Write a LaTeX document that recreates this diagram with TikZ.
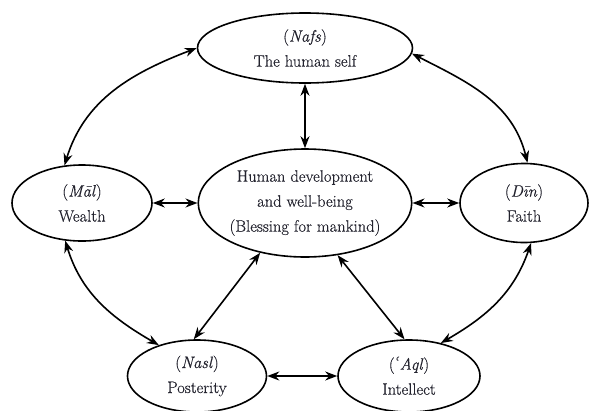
\documentclass[tikz,border=0pt]{standalone}
\usepackage{fontspec}
\setmainfont{Latin Modern Roman}[FakeBold=0.4,AutoFakeBold=0.4]
\newfontfamily\dvs{DejaVu Serif}
\usetikzlibrary{shapes.geometric,arrows.meta}
\definecolor{txt}{HTML}{23232E}
\begin{document}
\begin{tikzpicture}[x=1pt,y=1pt,
  oval/.style={ellipse, draw, line width=1.6pt, inner sep=0pt, align=center,
    text=txt, font=\fontsize{16.5}{25}\selectfont},
  link/.style={line width=1.6pt,
    {Stealth[length=12pt,width=9pt]}-{Stealth[length=12pt,width=9pt]}}]
\useasboundingbox (0,0) rectangle (589,-410);
\node[oval, minimum width=215pt, minimum height=70pt] (nafs) at (305,-48)
  {(\textit{Nafs})\\The human self};
\node[oval, minimum width=211pt, minimum height=108pt] (center) at (305,-203)
  {Human development\\and well-being\\(Blessing for mankind)};
\node[oval, minimum width=140pt, minimum height=76pt] (wealth) at (82,-203)
  {(\textit{Māl})\\Wealth};
\node[oval, minimum width=128pt, minimum height=79pt] (faith) at (524,-203)
  {(\textit{Dīn})\\Faith};
\node[oval, minimum width=139pt, minimum height=72pt] (posterity) at (197,-376)
  {(\textit{Nasl})\\Posterity};
\node[oval, minimum width=142pt, minimum height=72pt] (intellect) at (409,-376)
  {({\dvs\itshape ʿ}\textit{Aql})\\Intellect};
\draw[link] (nafs.west) to[out=201, in=73] (wealth.115);
\draw[link] (nafs.-3) to[out=-27, in=104] (faith.85);
\draw[link] (nafs.south) -- (center.north);
\draw[link] (wealth.east) -- (center.west);
\draw[link] (center.east) -- (faith.west);
\draw[link] (center.228) -- (posterity.95);
\draw[link] (center.-58) -- (intellect.97);
\draw[link] (wealth.246) to[out=-73, in=150] (posterity.141);
\draw[link] (faith.280) to[out=251, in=30] (intellect.46);
\draw[link] (posterity.east) -- (intellect.west);
\end{tikzpicture}
\end{document}
